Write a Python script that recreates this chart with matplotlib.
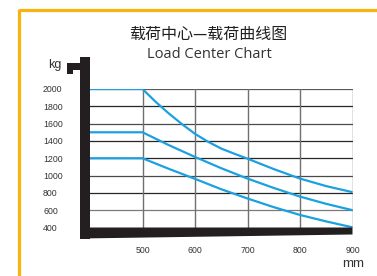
import matplotlib
matplotlib.use("Agg")
import matplotlib.pyplot as plt
from matplotlib import font_manager
from matplotlib.patches import Polygon

# ---------------- data ----------------
x_ticks = [500, 600, 700, 800, 900]
y_ticks = [400, 600, 800, 1000, 1200, 1400, 1600, 1800, 2000]

load_center_a = [400, 500, 525, 550, 575, 600, 625, 650, 675, 700, 750, 800, 850, 900]
capacity_2000 = [2000, 2000, 1852, 1718, 1595, 1482, 1390, 1312, 1252, 1195, 1075, 965, 878, 808]
load_center_b = [400, 500, 550, 600, 650, 700, 750, 800, 850, 900]
capacity_1500 = [1500, 1500, 1352, 1215, 1085, 965, 857, 757, 673, 600]
capacity_1200 = [1200, 1200, 1078, 962, 842, 735, 635, 545, 470, 402]

title_cn = "载荷中心—载荷曲线图"
title_en = "Load Center Chart"
y_unit = "kg"
x_unit = "mm"

# ---------------- fonts ----------------
def has_font(name):
    try:
        font_manager.findfont(name, fallback_to_default=False)
        return True
    except Exception:
        return False

narrow = "Liberation Sans Narrow" if has_font("Liberation Sans Narrow") else "Liberation Sans"
latin = "Open Sans" if has_font("Open Sans") else "DejaVu Sans"

W, H = 377, 276
fig = plt.figure(figsize=(W / 100, H / 100), dpi=100)
fig.patch.set_facecolor("white")

dark = "#231f20"
blue = "#1ba1df"

# main plot area (pixel box: x 90..352.5, y 89..227.5)
ax = fig.add_axes([90 / W, (H - 227.5) / H, (352.5 - 90) / W, (227.5 - 89) / H])
ax.set_xlim(400, 900)
ax.set_ylim(400, 2000)
ax.set_facecolor("none")
for s in ax.spines.values():
    s.set_visible(False)

grid_colors = {600: "#7a7a7a", 800: "#262626", 1000: "#4a4a4a", 1200: "#262626",
               1400: "#262626", 1600: "#4a4a4a", 1800: "#262626", 2000: "#5a5a5a"}
for v in y_ticks[1:]:
    ax.axhline(v, color=grid_colors[v], lw=0.9, zorder=1)
for v in x_ticks:
    ax.axvline(v, color="#707070", lw=1.0, zorder=1)

for xs, ys in ((load_center_a, capacity_2000), (load_center_b, capacity_1500),
               (load_center_b, capacity_1200)):
    ax.plot(xs, ys, color=blue, lw=1.6, zorder=3, solid_capstyle="butt",
            solid_joinstyle="round")

ax.set_yticks(y_ticks)
ax.set_yticklabels([str(v) for v in y_ticks])
ax.set_xticks(x_ticks)
ax.set_xticklabels([str(v) for v in x_ticks])
tick_size = 7 if narrow.endswith("Narrow") else 6.3
ax.tick_params(axis="y", length=0, pad=47 * 0.72, labelsize=tick_size, labelcolor="#333333")
ax.tick_params(axis="x", length=0, pad=18.5 * 0.72, labelsize=tick_size, labelcolor="#333333")
for lab in ax.get_yticklabels():
    lab.set_ha("left")
    lab.set_family(narrow)
for lab in ax.get_xticklabels():
    lab.set_family(narrow)

# overlay in pixel coordinates for decorations
ov = fig.add_axes([0, 0, 1, 1], zorder=5)
ov.set_xlim(0, W)
ov.set_ylim(H, 0)
ov.axis("off")
ov.patch.set_alpha(0)

# orange frame
orange = "#f6b40f"
ov.plot([18.5, W + 2], [9.5, 9.5], color=orange, lw=2.3, solid_capstyle="butt")
ov.plot([18.5, 18.5], [8.5, H + 2], color=orange, lw=2.3, solid_capstyle="butt")

# thick axis bars
ov.add_patch(Polygon([(80, 227.5), (352.5, 227.5), (352.5, 234.5), (80, 238.5)],
                     closed=True, facecolor=dark, edgecolor="none"))
ov.add_patch(Polygon([(80, 57), (90, 57), (90, 238.5), (80, 238.5)],
                     closed=True, facecolor=dark, edgecolor="none"))
ov.add_patch(Polygon([(67, 63), (80, 63), (80, 70), (72.5, 70), (72.5, 74), (67, 74)],
                     closed=True, facecolor=dark, edgecolor="none"))

# texts
ov.text(208, 34, title_cn, ha="center", va="center", fontsize=11.5, color=dark,
        family=["Noto Sans CJK SC", "DejaVu Sans"])
ov.text(209, 54.5, title_en, ha="center", va="center", fontsize=10.5, color="#333333",
        family=latin)
ov.text(54.5, 65, y_unit, ha="center", va="center", fontsize=9, color="#333333",
        family=narrow)
ov.text(353, 264, x_unit, ha="center", va="center", fontsize=9.5, color="#333333",
        family=narrow)

fig.savefig("out.png", dpi=100)
